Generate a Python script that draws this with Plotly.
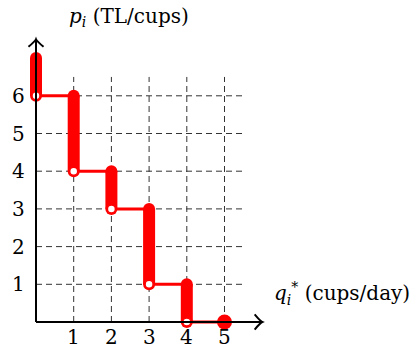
import plotly.graph_objects as go

# Step demand curve: quantity steps and the price band at each step
quantities = [0, 1, 2, 3, 4]
upper_prices = [7, 6, 4, 3, 1]
lower_prices = [6, 4, 3, 1, 0]
end_quantity = 5
end_price = 0

x_ticks = [1, 2, 3, 4, 5]
y_ticks = [1, 2, 3, 4, 5, 6]
x_tick_labels = ["1", "2", "3", "4", "5"]
y_tick_labels = ["1", "2", "3", "4", "5", "6"]

x_title = "<i>q</i><sub><i>i</i></sub><sup>*</sup> (cups/day)"
y_title = "<i>p</i><sub><i>i</i></sub> (TL/cups)"

RED = "#ff0000"
FONT = "DejaVu Serif"
W, H = 417, 350
UNIT = 37.7
X0_PX, Y0_PX = 36, 322

x_range = [-X0_PX / UNIT, (W - X0_PX) / UNIT]
y_range = [-(H - Y0_PX) / UNIT, Y0_PX / UNIT]

grid_x_max = 5.5
grid_y_max = 6.5
x_axis_end = 6.0
y_axis_end = 7.5

fig = go.Figure()

shapes = []
# dashed grid
for xv in x_ticks:
    shapes.append(dict(type="line", x0=xv, x1=xv, y0=0, y1=grid_y_max, xref="x", yref="y",
                       line=dict(color="#333333", width=1, dash="6px,4px"), layer="below"))
for yv in y_ticks:
    shapes.append(dict(type="line", x0=0, x1=grid_x_max, y0=yv, y1=yv, xref="x", yref="y",
                       line=dict(color="#333333", width=1, dash="6px,4px"), layer="below"))
# axes
shapes.append(dict(type="line", x0=0, x1=x_axis_end, y0=0, y1=0, line=dict(color="black", width=2)))
shapes.append(dict(type="line", x0=0, x1=0, y0=0, y1=y_axis_end, line=dict(color="black", width=2)))
# arrow heads
ah_w, ah_d = 0.2, 0.2
shapes.append(dict(type="path",
                   path=f"M {x_axis_end - ah_d} {ah_w} Q {x_axis_end - 0.05} 0.02 {x_axis_end} 0 "
                        f"Q {x_axis_end - 0.05} -0.02 {x_axis_end - ah_d} {-ah_w}",
                   line=dict(color="black", width=2)))
shapes.append(dict(type="path",
                   path=f"M {-ah_w} {y_axis_end - ah_d} Q -0.02 {y_axis_end - 0.05} 0 {y_axis_end} "
                        f"Q 0.02 {y_axis_end - 0.05} {ah_w} {y_axis_end - ah_d}",
                   line=dict(color="black", width=2)))

# horizontal steps
for q, p in zip(quantities, lower_prices):
    fig.add_trace(go.Scatter(x=[q, q + 1], y=[p, p], mode="lines",
                             line=dict(color=RED, width=3), hoverinfo="skip"))

# thick vertical bands with rounded ends
for q, lo, hi in zip(quantities, lower_prices, upper_prices):
    fig.add_trace(go.Scatter(x=[q, q], y=[lo, hi], mode="lines+markers",
                             line=dict(color=RED, width=12),
                             marker=dict(color=RED, size=12, line=dict(width=0)),
                             hoverinfo="skip"))

# open circles at the lower end of each band
fig.add_trace(go.Scatter(x=quantities, y=lower_prices, mode="markers",
                         marker=dict(color="white", size=8, line=dict(color=RED, width=1.5)),
                         hoverinfo="skip"))

# closed end point
fig.add_trace(go.Scatter(x=[end_quantity], y=[end_price], mode="markers",
                         marker=dict(color=RED, size=15, line=dict(width=0)),
                         hoverinfo="skip"))

annotations = []
for xv, lab in zip(x_ticks, x_tick_labels):
    annotations.append(dict(x=xv, y=0, yref="paper", text=lab, showarrow=False,
                            xanchor="center", yanchor="bottom", yshift=-1,
                            font=dict(family=FONT, size=20, color="black")))
for yv, lab in zip(y_ticks, y_tick_labels):
    annotations.append(dict(x=-0.24, y=yv, text=lab, showarrow=False, xanchor="right", yanchor="middle",
                            font=dict(family=FONT, size=20, color="black")))
annotations.append(dict(x=6.27, y=0.76, text=x_title, showarrow=False, xanchor="left", yanchor="middle",
                        font=dict(family=FONT, size=20, color="black")))
annotations.append(dict(x=0.82, y=8.1, text=y_title, showarrow=False, xanchor="left", yanchor="middle",
                        font=dict(family=FONT, size=20, color="black")))

fig.update_layout(
    width=W, height=H,
    margin=dict(l=0, r=0, t=0, b=0),
    paper_bgcolor="white", plot_bgcolor="white",
    showlegend=False,
    xaxis=dict(range=x_range, visible=False, fixedrange=True),
    yaxis=dict(range=y_range, visible=False, fixedrange=True),
    shapes=shapes,
    annotations=annotations,
)

fig.write_html("out.html")
